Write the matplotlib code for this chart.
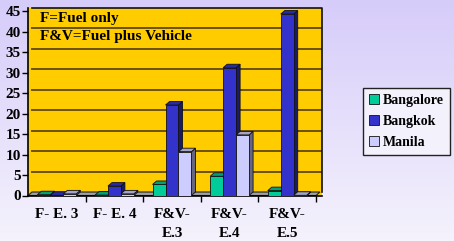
import matplotlib.pyplot as plt
import numpy as np
from matplotlib.patches import Polygon, Patch

# data
categories = ['F- E. 3', 'F- E. 4', 'F&V-\nE.3', 'F&V-\nE.4', 'F&V-\nE.5']
bangalore = [0.2, 0.1, 2.7, 4.7, 1.2]
bangkok = [0.05, 2.3, 22.1, 31.2, 44.3]
manila = [0.4, 0.4, 10.7, 14.8, 0.05]
yticks = list(range(0, 50, 5))

series = [
    ('Bangalore', bangalore, '#00cc99', '#00a07a', '#006650'),
    ('Bangkok', bangkok, '#3333cc', '#2a2aa8', '#1a1a66'),
    ('Manila', manila, '#ccccff', '#a3a3cc', '#666680'),
]

plt.rcParams['font.family'] = ['Liberation Serif', 'DejaVu Serif']
plt.rcParams['font.weight'] = 'bold'

W, H = 454, 241
fig = plt.figure(figsize=(W / 100, H / 100), dpi=100)

# lavender gradient background
bg = fig.add_axes([0, 0, 1, 1], zorder=-10)
grad = np.linspace(0, 1, 256).reshape(-1, 1)
top = np.array([0.84, 0.80, 0.98])
bot = np.array([0.96, 0.95, 0.99])
img = top + (bot - top) * grad[:, :, None]
bg.imshow(img, aspect='auto', extent=[0, 1, 0, 1])
bg.axis('off')

# 3d depth in data units
dx, dy = 0.07, 0.85
w = 0.225
xmin, xmax = -0.5, -0.5 + 294 / 57.6
ymax = 45 + dy

ax = fig.add_axes([28 / W, 1 - 195.5 / H, 294 / W, (195.5 - 7.7) / H])
ax.set_xlim(xmin, xmax)
ax.set_ylim(0, ymax)
ax.set_facecolor('#ffcc00')

# back wall grid
for k in yticks[1:-1]:
    ax.plot([xmin + dx, xmax], [k + dy, k + dy], color='#6b5200', lw=1.4, zorder=1)
# back wall outline (top and right)
ax.plot([xmin + dx, xmax - 0.005, xmax - 0.005], [ymax - 0.1, ymax - 0.1, dy],
        color='#111111', lw=1.2, zorder=1, clip_on=False)

# floor
floor = Polygon([(-0.5, 0), (4.5, 0), (4.5 + dx, dy), (-0.5 + dx, dy)],
                closed=True, facecolor='#a0a0a0', edgecolor='#222222', lw=0.8, zorder=2)
ax.add_patch(floor)

x = np.arange(len(categories))
z = 3
for i in range(len(categories)):
    for j, (name, vals, front, topc, side) in enumerate(series):
        xc = x[i] + (j - 1) * w
        h = vals[i]
        l, r = xc - w / 2, xc + w / 2
        ax.add_patch(Polygon([(r, 0), (r + dx, dy), (r + dx, h + dy), (r, h)],
                             closed=True, facecolor=side, edgecolor='#111111', lw=0.6, zorder=z))
        ax.add_patch(Polygon([(l, h), (r, h), (r + dx, h + dy), (l + dx, h + dy)],
                             closed=True, facecolor=topc, edgecolor='#111111', lw=0.6, zorder=z))
        ax.bar(xc, h, width=w, color=front, edgecolor='#111111', lw=0.6, zorder=z + 0.5)
        z += 1

for s in ['top', 'right']:
    ax.spines[s].set_visible(False)
ax.spines['left'].set_linewidth(1.2)
ax.spines['bottom'].set_linewidth(1.2)

ax.set_yticks(yticks)
ax.set_yticklabels([str(t) for t in yticks], fontsize=11, fontweight='bold')
ax.tick_params(axis='y', length=4, width=1, pad=1)

ax.set_xticks([0.5, 1.5, 2.5, 3.5, 4.5])
ax.set_xticklabels([])
ax.tick_params(axis='x', which='major', length=4, width=1)
ax.set_xticks(x, minor=True)
ax.set_xticklabels(categories, minor=True, fontsize=11, fontweight='bold', linespacing=1.6)
ax.tick_params(axis='x', which='minor', length=0, pad=9)

ax.text(-0.3, 43.3, 'F=Fuel only', fontsize=11, fontweight='bold', va='center', zorder=20)
ax.text(-0.3, 38.9, 'F&V=Fuel plus Vehicle', fontsize=11, fontweight='bold', va='center', zorder=20)

handles = [Patch(facecolor=s[2], edgecolor='#111111', lw=0.6) for s in series]
fig.legend(handles, [s[0] for s in series], loc='upper left',
           bbox_to_anchor=(363 / W, 1 - 88 / H), frameon=True, fancybox=False,
           edgecolor='#222222', facecolor='#f3f1fc', framealpha=1,
           prop={'family': 'Liberation Serif', 'weight': 'bold', 'size': 10},
           handlelength=0.75, handleheight=0.75, handletextpad=0.3,
           labelspacing=0.6, borderpad=0.4, borderaxespad=0)

fig.savefig('out.png', dpi=100)
